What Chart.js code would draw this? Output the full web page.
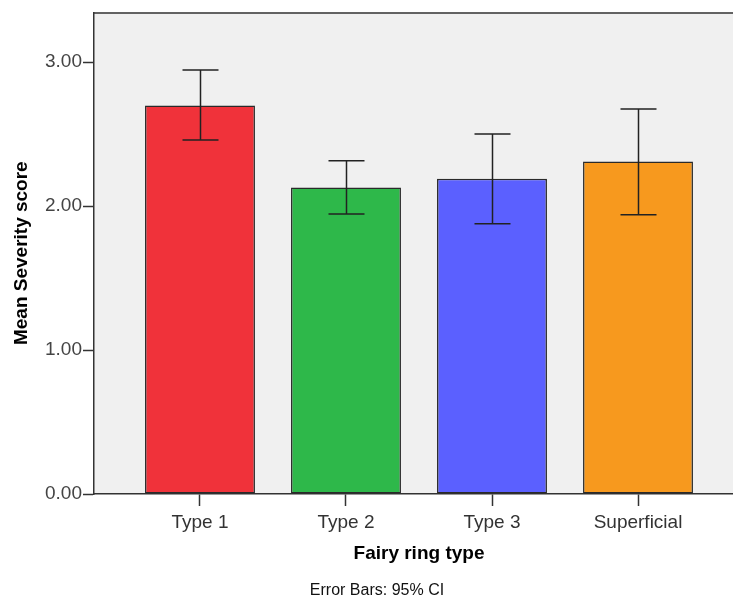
<!DOCTYPE html>
<html>
<head>
<meta charset="utf-8">
<script src="https://cdn.jsdelivr.net/npm/chart.js@4/dist/chart.umd.min.js"></script>
<style>
  html, body { margin: 0; padding: 0; background: #fff; overflow: hidden; }
  #wrap { width: 760px; height: 600px; }
</style>
</head>
<body>
<div id="wrap"><canvas id="chart"></canvas></div>
<script>
// data
const categories = ['Type 1', 'Type 2', 'Type 3', 'Superficial'];
const means = [2.70, 2.13, 2.19, 2.31];
const ciLow = [2.46, 1.945, 1.878, 1.94];
const ciHigh = [2.945, 2.316, 2.502, 2.675];
const yTicks = [0, 1, 2, 3];
const barColors = ['#f0323a', '#2eb84a', '#5b60ff', '#f7991e'];

const font = 'Liberation Sans, Arial, sans-serif';

// grey plot background + top frame line
const plotBg = {
  id: 'plotBg',
  beforeDraw(chart) {
    const { ctx, chartArea: a } = chart;
    ctx.save();
    ctx.fillStyle = '#f0f0f0';
    ctx.fillRect(a.left, a.top, a.right - a.left, a.bottom - a.top);
    ctx.strokeStyle = '#333';
    ctx.lineWidth = 1.5;
    ctx.beginPath();
    ctx.moveTo(a.left, a.top + 0.5);
    ctx.lineTo(a.right, a.top + 0.5);
    ctx.stroke();
    ctx.restore();
  }
};

// 95% CI whiskers
const errorBars = {
  id: 'errorBars',
  afterDatasetsDraw(chart) {
    const { ctx, scales: { x, y } } = chart;
    ctx.save();
    ctx.strokeStyle = '#222';
    ctx.lineWidth = 1.5;
    categories.forEach((c, i) => {
      const px = Math.round(x.getPixelForValue(i)) + 0.5;
      const lo = y.getPixelForValue(ciLow[i]);
      const hi = y.getPixelForValue(ciHigh[i]);
      ctx.beginPath();
      ctx.moveTo(px, lo); ctx.lineTo(px, hi);
      ctx.moveTo(px - 18, lo); ctx.lineTo(px + 18, lo);
      ctx.moveTo(px - 18, hi); ctx.lineTo(px + 18, hi);
      ctx.stroke();
    });
    ctx.restore();
  }
};

// footnote under the axis title
const footnote = {
  id: 'footnote',
  afterDraw(chart) {
    const { ctx } = chart;
    ctx.save();
    ctx.fillStyle = '#111';
    ctx.font = '16px ' + font;
    ctx.textAlign = 'center';
    ctx.textBaseline = 'middle';
    ctx.fillText('Error Bars: 95% CI', 377, 591);
    ctx.restore();
  }
};

new Chart(document.getElementById('chart'), {
  type: 'bar',
  data: {
    datasets: [{
      data: means.map((m, i) => ({ x: i, y: m })),
      backgroundColor: barColors,
      borderColor: '#2a2a2a',
      borderWidth: 1.5,
      borderSkipped: false,
      barPercentage: 1,
      categoryPercentage: 0.753
    }]
  },
  options: {
    responsive: true,
    maintainAspectRatio: false,
    animation: false,
    layout: { padding: { top: 11, right: 16, left: 0, bottom: 0 } },
    plugins: { legend: { display: false }, tooltip: { enabled: false } },
    scales: {
      x: {
        type: 'linear',
        offset: false,
        min: -0.726,
        max: 3.726,
        afterBuildTicks: (s) => { s.ticks = categories.map((c, i) => ({ value: i })); },
        afterFit: (s) => { s.height = 106; },
        ticks: {
          callback: (v) => categories[v],
          font: { family: font, size: 19 },
          color: '#333',
          padding: 5,
          maxRotation: 0
        },
        grid: { offset: false, drawOnChartArea: false, tickLength: 12, tickWidth: 1.5, color: '#333' },
        border: { color: '#333', width: 1.5 },
        title: {
          display: true,
          text: 'Fairy ring type',
          font: { family: font, size: 19, weight: 'bold' },
          color: '#000',
          padding: { top: 0, bottom: 35 }
        }
      },
      y: {
        min: 0,
        max: 3.346,
        afterBuildTicks: (s) => { s.ticks = yTicks.map(v => ({ value: v })); },
        afterFit: (s) => { s.width = 94; },
        ticks: {
          callback: (v) => v.toFixed(2),
          font: { family: font, size: 19 },
          color: '#444',
          padding: 1
        },
        grid: { drawOnChartArea: false, tickLength: 11, tickWidth: 1.5, color: '#333' },
        border: { color: '#333', width: 1.5 },
        title: {
          display: true,
          text: 'Mean Severity score',
          font: { family: font, size: 19, weight: 'bold' },
          color: '#000',
          padding: { top: 10, bottom: 0 }
        }
      }
    }
  },
  plugins: [plotBg, errorBars, footnote]
});
</script>
</body>
</html>
